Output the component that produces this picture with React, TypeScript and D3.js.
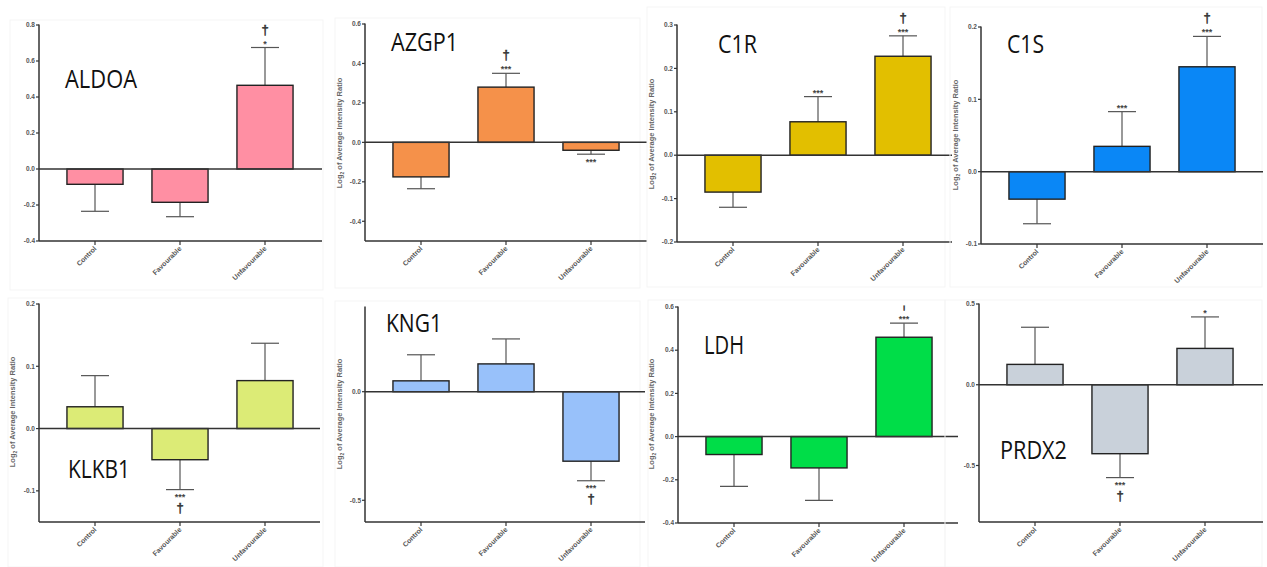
import React from "react";
import * as d3 from "d3";

// ---------- DATA ----------
const categories = ["Control", "Favourable", "Unfavourable"];
const proteins = ["ALDOA", "AZGP1", "C1R", "C1S", "KLKB1", "KNG1", "LDH", "PRDX2"];

const aldoaMean = [-0.085, -0.185, 0.465];
const aldoaErr = [0.15, 0.08, 0.21];
const azgp1Mean = [-0.175, 0.28, -0.04];
const azgp1Err = [0.06, 0.07, 0.02];
const c1rMean = [-0.085, 0.077, 0.228];
const c1rErr = [0.035, 0.058, 0.047];
const c1sMean = [-0.038, 0.035, 0.145];
const c1sErr = [0.034, 0.048, 0.042];
const klkb1Mean = [0.035, -0.05, 0.077];
const klkb1Err = [0.05, 0.048, 0.06];
const kng1Mean = [0.05, 0.128, -0.32];
const kng1Err = [0.12, 0.115, 0.09];
const ldhMean = [-0.083, -0.145, 0.46];
const ldhErr = [0.147, 0.15, 0.065];
const prdx2Mean = [0.126, -0.427, 0.225];
const prdx2Err = [0.23, 0.148, 0.195];

const aldoaStars = ["", "", "*"];
const azgp1Stars = ["", "***", "***"];
const c1rStars = ["", "***", "***"];
const c1sStars = ["", "***", "***"];
const klkb1Stars = ["", "***", ""];
const kng1Stars = ["", "", "***"];
const ldhStars = ["", "", "***"];
const prdx2Stars = ["", "***", "*"];

const aldoaDagger = [false, false, true];
const azgp1Dagger = [false, true, false];
const c1rDagger = [false, false, true];
const c1sDagger = [false, false, true];
const klkb1Dagger = [false, true, false];
const kng1Dagger = [false, false, true];
const ldhDagger = [false, false, true];
const prdx2Dagger = [false, true, false];

const aldoaTicks = [-0.4, -0.2, 0, 0.2, 0.4, 0.6, 0.8];
const azgp1Ticks = [-0.4, -0.2, 0, 0.2, 0.4, 0.6];
const c1rTicks = [-0.2, -0.1, 0, 0.1, 0.2, 0.3];
const c1sTicks = [-0.1, 0, 0.1, 0.2];
const klkb1Ticks = [-0.1, 0, 0.1, 0.2];
const kng1Ticks = [-0.5, 0];
const ldhTicks = [-0.4, -0.2, 0, 0.2, 0.4, 0.6];
const prdx2Ticks = [-0.5, 0, 0.5];

const aldoaDomain = [-0.4, 0.8];
const azgp1Domain = [-0.5, 0.6];
const c1rDomain = [-0.2, 0.3];
const c1sDomain = [-0.1, 0.2];
const klkb1Domain = [-0.15, 0.2];
const kng1Domain = [-0.6, 0.39];
const ldhDomain = [-0.4, 0.6];
const prdx2Domain = [-0.85, 0.5];

const means = [aldoaMean, azgp1Mean, c1rMean, c1sMean, klkb1Mean, kng1Mean, ldhMean, prdx2Mean];
const errs = [aldoaErr, azgp1Err, c1rErr, c1sErr, klkb1Err, kng1Err, ldhErr, prdx2Err];
const stars = [aldoaStars, azgp1Stars, c1rStars, c1sStars, klkb1Stars, kng1Stars, ldhStars, prdx2Stars];
const daggers = [aldoaDagger, azgp1Dagger, c1rDagger, c1sDagger, klkb1Dagger, kng1Dagger, ldhDagger, prdx2Dagger];
const tickSets = [aldoaTicks, azgp1Ticks, c1rTicks, c1sTicks, klkb1Ticks, kng1Ticks, ldhTicks, prdx2Ticks];
const domains = [aldoaDomain, azgp1Domain, c1rDomain, c1sDomain, klkb1Domain, kng1Domain, ldhDomain, prdx2Domain];

// ---------- LAYOUT / STYLE ----------
const colors = ["#FF8FA3", "#F5914A", "#E2BF00", "#0A87F6", "#DCEB76", "#98C1FA", "#00DD48", "#C9D1DA"];

const layout = [
  { ax: 39, top: 25, bottom: 241, right: 322, frame: [10, 20, 313, 270], clipTop: 20, title: [65, 88, 72], ylab: null },
  { ax: 365, top: 24, bottom: 241, right: 647, frame: [335, 18, 305, 270], clipTop: 18, title: [391, 51, 67], ylab: [342, 133] },
  { ax: 677, top: 25, bottom: 242, right: 952, frame: [647, 7, 298, 280], clipTop: 7, title: [718, 53, 39], ylab: [654, 134] },
  { ax: 981, top: 27, bottom: 244, right: 1263, frame: [950, 7, 312, 280], clipTop: 7, title: [1007, 53, 37], ylab: [958, 135] },
  { ax: 39, top: 304, bottom: 522, right: 320, frame: [8, 298, 315, 269], clipTop: 298, title: [68, 478, 62], ylab: [15, 412] },
  { ax: 365, top: 307, bottom: 522, right: 645, frame: [335, 301, 305, 266], clipTop: 301, title: [386, 332, 56], ylab: [342, 414] },
  { ax: 678, top: 307, bottom: 523, right: 958, frame: [648, 300, 297, 267], clipTop: 305.5, title: [704, 354, 40], ylab: [654, 414] },
  { ax: 979, top: 304, bottom: 522, right: 1263, frame: [945, 300, 317, 267], clipTop: 300, title: [1000, 459, 67], ylab: null },
];

const fmt = (v: number) => {
  const s = d3.format(".1f")(Math.abs(v));
  return v < 0 ? "-" + s : s;
};

function Panel({ i }: { i: number }) {
  const L = layout[i];
  const y = d3.scaleLinear().domain(domains[i]).range([L.bottom, L.top]);
  const x = d3
    .scaleBand()
    .domain(categories)
    .range([L.ax + 13.5, L.ax + 13.5 + 255])
    .paddingInner(0.34)
    .paddingOuter(0.17);
  const bw = x.bandwidth();
  const y0 = y(0);
  const clipId = `clip${i}`;
  const [fx, fy, fw, fh] = L.frame;
  return (
    <g>
      <rect x={fx} y={fy} width={fw} height={fh} fill="none" stroke="#f5f5f5" strokeWidth={1} />
      <defs>
        <clipPath id={clipId}>
          <rect x={fx} y={L.clipTop} width={fw + 10} height={fh + 10} />
        </clipPath>
      </defs>
      <g clipPath={`url(#${clipId})`}>
        {categories.map((c, k) => {
          const v = means[i][k];
          const cx = (x(c) as number) + bw / 2;
          const e = errs[i][k];
          const tipV = v >= 0 ? v + e : v - e;
          const yb = y(v);
          const yt = y(tipV);
          const up = v >= 0;
          const st = stars[i][k];
          const dg = daggers[i][k];
          return (
            <g key={c}>
              <line x1={cx} x2={cx} y1={yb} y2={yt} stroke="#555" strokeWidth={1.2} />
              <line x1={cx - 14} x2={cx + 14} y1={yt} y2={yt} stroke="#555" strokeWidth={1.2} />
              <rect
                x={x(c)}
                y={Math.min(yb, y0)}
                width={bw}
                height={Math.abs(yb - y0)}
                fill={colors[i]}
                stroke="#222"
                strokeWidth={1.4}
              />
              {st && (
                <text
                  x={cx}
                  y={up ? yt - 1 : yt + 10.5}
                  textAnchor="middle"
                  fontSize={9}
                  fontWeight="bold"
                  fill="#444"
                  fontFamily="Liberation Sans, Arial, sans-serif"
                >
                  {st}
                </text>
              )}
              {dg && (
                <text
                  x={cx}
                  y={up ? yt - 14 : yt + 22}
                  textAnchor="middle"
                  fontSize={13}
                  fill="#333"
                  stroke="#333"
                  strokeWidth={0.5}
                  fontFamily="Liberation Sans, Arial, sans-serif"
                >
                  †
                </text>
              )}
            </g>
          );
        })}
      </g>
      <line x1={L.ax} x2={L.right} y1={y0} y2={y0} stroke="#333" strokeWidth={1.5} />
      <line x1={L.ax} x2={L.ax} y1={L.top - 0.5} y2={L.bottom} stroke="#333" strokeWidth={1.5} />
      <line x1={L.ax} x2={L.right} y1={L.bottom} y2={L.bottom} stroke="#333" strokeWidth={1.5} />
      {tickSets[i].map((t) => (
        <g key={t}>
          <line x1={L.ax - 3} x2={L.ax} y1={y(t)} y2={y(t)} stroke="#333" strokeWidth={1.2} />
          <text
            x={L.ax - 4}
            y={y(t)}
            dy="0.35em"
            textAnchor="end"
            fontSize={6.5}
            fontWeight="bold"
            fill="#555"
            fontFamily="Liberation Sans, Arial, sans-serif"
          >
            {fmt(t)}
          </text>
        </g>
      ))}
      {categories.map((c) => {
        const cx = (x(c) as number) + bw / 2;
        return (
          <g key={c}>
            <line x1={cx} x2={cx} y1={L.bottom} y2={L.bottom + 4} stroke="#333" strokeWidth={1.2} />
            <text
              transform={`translate(${cx + 2},${L.bottom + 8}) rotate(-45)`}
              textAnchor="end"
              fontSize={7}
              fontWeight="bold"
              fill="#555"
              fontFamily="Liberation Sans, Arial, sans-serif"
            >
              {c}
            </text>
          </g>
        );
      })}
      {L.ylab && (
        <text
          transform={`translate(${L.ylab[0]},${L.ylab[1]}) rotate(-90)`}
          textAnchor="middle"
          fontSize={7.5}
          fontWeight="bold"
          fill="#666"
          fontFamily="Liberation Sans, Arial, sans-serif"
        >
          <tspan>Log</tspan>
          <tspan fontSize={5} dy={2}>2</tspan>
          <tspan dy={-2}> of  Average Intensity Ratio</tspan>
        </text>
      )}
      <text
        x={L.title[0]}
        y={L.title[1]}
        fontSize={25}
        fill="#111"
        fontFamily="Open Sans, Liberation Sans, sans-serif"
        textLength={L.title[2]}
        lengthAdjust="spacingAndGlyphs"
      >
        {proteins[i]}
      </text>
    </g>
  );
}

export default function App() {
  return (
    <svg
      width={1267}
      height={567}
      style={{ position: "absolute", left: 0, top: 0, background: "#fff" }}
    >
      <rect x={0} y={0} width={1267} height={567} fill="#fff" />
      {proteins.map((p, i) => (
        <Panel key={p} i={i} />
      ))}
    </svg>
  );
}
